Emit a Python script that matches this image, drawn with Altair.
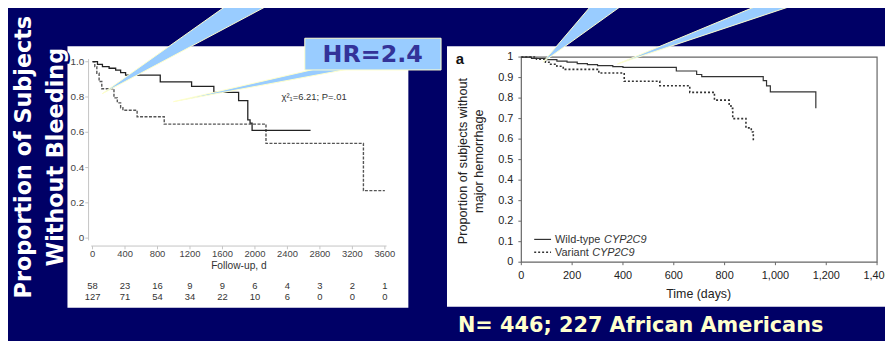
import altair as alt
import pandas as pd

# ---------------- Left panel (Kaplan-Meier, follow-up in days) ----------------
left_solid_days = [0, 61, 122, 204, 285, 346, 407, 834, 1220, 1494, 1799, 1912, 1940, 1965, 2685]
left_solid_surv = [1.0, 0.985, 0.972, 0.963, 0.952, 0.938, 0.924, 0.886, 0.860, 0.826, 0.779, 0.670, 0.652, 0.611, 0.611]
left_dashed_days = [0, 28, 53, 81, 114, 264, 305, 346, 374, 549, 883, 2136, 3336, 3600]
left_dashed_surv = [1.0, 0.972, 0.935, 0.888, 0.847, 0.795, 0.767, 0.739, 0.725, 0.688, 0.646, 0.537, 0.269, 0.269]
left_x_ticks = [0, 400, 800, 1200, 1600, 2000, 2400, 2800, 3200, 3600]
left_y_ticks = [0, 0.2, 0.4, 0.6, 0.8, 1.0]
left_y_labels = ["0", "0.2", "0.4", "0.6", "0.8", "1.0"]
risk_row_1 = [58, 23, 16, 9, 9, 6, 4, 3, 2, 1]
risk_row_2 = [127, 71, 54, 34, 22, 10, 6, 0, 0, 0]

# ---------------- Right panel ----------------
wild_days = [0, 40, 100, 140, 180, 220, 260, 300, 360, 400, 610, 690, 710, 952, 965, 980, 1159]
wild_surv = [1.0, 0.993, 0.988, 0.980, 0.975, 0.968, 0.963, 0.958, 0.953, 0.950, 0.932, 0.915, 0.905, 0.885, 0.860, 0.830, 0.750]
variant_days = [0, 60, 95, 110, 140, 165, 305, 405, 545, 663, 760, 818, 825, 832, 884, 905, 913]
variant_surv = [1.0, 0.99, 0.975, 0.965, 0.955, 0.94, 0.922, 0.882, 0.86, 0.828, 0.79, 0.77, 0.75, 0.70, 0.655, 0.635, 0.59]
right_x_ticks = [0, 200, 400, 600, 800, 1000, 1200, 1400]
right_x_labels = ["0", "200", "400", "600", "800", "1,000", "1,200", "1,400"]
right_y_ticks = [0, 0.1, 0.2, 0.3, 0.4, 0.5, 0.6, 0.7, 0.8, 0.9, 1.0]
right_y_labels = ["0", "0.1", "0.2", "0.3", "0.4", "0.5", "0.6", "0.7", "0.8", "0.9", "1"]

# ---------------- Slide annotations ----------------
slide_title = ["Proportion of Subjects", "Without Bleeding"]
hr_text = "HR=2.4"
footer_text = "N= 446; 227 African Americans"
chi_text = "χ²₁=6.21; P=.01"

# callout wedges (slide pixel coordinates)
wedges = {
    "w1": [(230, 3), (272, 3), (103, 93)],
    "w2": [(327, 66), (363, 66), (175, 101)],
    "w3": [(600, 0), (633, 0), (548, 61)],
    "w4": [(767, 3), (803, 3), (623, 63)],
}

OFF = 8
W, H = 885, 333
ONE = pd.DataFrame({"k": [0]})


def V(v):
    return alt.value(v - OFF)


def S(d0, d1, r0, r1):
    return alt.Scale(domain=[d0, d1], range=[r0 - OFF, r1 - OFF], nice=False, zero=False)


LX = S(0, 3600, 93.3, 388.3)
LY = S(0, 1, 238.7, 60.7)
RX = S(0, 1400, 526, 885)
RY = S(0, 1, 263, 56)
PX = S(8, 893, 8, 893)
PY = S(8, 341, 8, 341)

PLOT_FONT = "Liberation Sans"
SLIDE_FONT = "DejaVu Sans"

layers = []


def rect(x1, y1, x2, y2, **mk):
    return alt.Chart(ONE).mark_rect(**mk).encode(x=V(x1), x2=V(x2), y=V(y1), y2=V(y2))


def rule(x1, y1, x2, y2, **mk):
    return alt.Chart(ONE).mark_rule(**mk).encode(x=V(x1), x2=V(x2), y=V(y1), y2=V(y2))


def txt(x, y, s, **mk):
    return alt.Chart(ONE).mark_text(text=s, **mk).encode(x=V(x), y=V(y))


def km(days, surv, sx, sy, **mk):
    df = pd.DataFrame({"t": days, "s": surv})
    return alt.Chart(df).mark_line(interpolate="step-after", **mk).encode(
        x=alt.X("t:Q", scale=sx, axis=None),
        y=alt.Y("s:Q", scale=sy, axis=None),
    )


def xticks(vals, sx, y1, y2, color):
    return alt.Chart(pd.DataFrame({"t": vals})).mark_rule(color=color, strokeWidth=1).encode(
        x=alt.X("t:Q", scale=sx, axis=None), y=V(y1), y2=V(y2))


def yticks(vals, sy, x1, x2, color):
    return alt.Chart(pd.DataFrame({"v": vals})).mark_rule(color=color, strokeWidth=1).encode(
        y=alt.Y("v:Q", scale=sy, axis=None), x=V(x1), x2=V(x2))


def xlabels(vals, labs, sx, y, **mk):
    return alt.Chart(pd.DataFrame({"t": vals, "lab": labs})).mark_text(**mk).encode(
        x=alt.X("t:Q", scale=sx, axis=None), y=V(y), text="lab:N")


def ylabels(vals, labs, sy, x, **mk):
    return alt.Chart(pd.DataFrame({"v": vals, "lab": labs})).mark_text(**mk).encode(
        y=alt.Y("v:Q", scale=sy, axis=None), x=V(x), text="lab:N")


# white panels
layers.append(rect(68, 45, 412, 309, color="white"))
layers.append(rect(451, 45, 893, 308, color="white"))

# ---- left plot ----
GRAY = "#c4c4c4"
layers.append(rule(89.3, 58, 89.3, 241, color=GRAY, strokeWidth=1))
layers.append(rule(92, 246.7, 390, 246.7, color=GRAY, strokeWidth=1))
layers.append(yticks(left_y_ticks, LY, 86, 89.3, GRAY))
layers.append(xticks(left_x_ticks, LX, 246.7, 250, GRAY))
layers.append(ylabels(left_y_ticks, left_y_labels, LY, 85,
                      align="right", baseline="middle", font=PLOT_FONT, fontSize=10, color="#444"))
layers.append(xlabels(left_x_ticks, [str(v) for v in left_x_ticks], LX, 254.5,
                      align="center", baseline="middle", font=PLOT_FONT, fontSize=9.5, color="#444"))
layers.append(txt(241, 267, "Follow-up, d", align="center", baseline="middle",
                  font=PLOT_FONT, fontSize=10.3, color="#333"))
layers.append(xlabels(left_x_ticks, [str(v) for v in risk_row_1], LX, 287,
                      align="center", baseline="middle", font=PLOT_FONT, fontSize=9.5, color="#333"))
layers.append(xlabels(left_x_ticks, [str(v) for v in risk_row_2], LX, 298,
                      align="center", baseline="middle", font=PLOT_FONT, fontSize=9.5, color="#333"))
layers.append(txt(284, 96.5, chi_text, align="left", baseline="middle",
                  font=PLOT_FONT, fontSize=9.5, color="#333"))
layers.append(km(left_dashed_days, left_dashed_surv, LX, LY, color="#555", strokeWidth=1.4,
                 strokeDash=[3, 1.5]))
layers.append(km(left_solid_days, left_solid_surv, LX, LY, color="#222", strokeWidth=1.3))

# ---- right plot ----
FR = "#666"
layers.append(rect(526, 56, 885, 263, fill="transparent", stroke=FR, strokeWidth=1.2))
layers.append(yticks(right_y_ticks, RY, 523, 526, FR))
layers.append(xticks(right_x_ticks, RX, 263, 266, FR))
layers.append(ylabels(right_y_ticks, right_y_labels, RY, 518,
                      align="right", baseline="middle", font=PLOT_FONT, fontSize=11, color="#222"))
layers.append(xlabels(right_x_ticks, right_x_labels, RX, 276.5,
                      align="center", baseline="middle", font=PLOT_FONT, fontSize=11, color="#222"))
layers.append(txt(705, 295, "Time (days)", align="center", baseline="middle",
                  font=PLOT_FONT, fontSize=12.5, color="#222"))
layers.append(txt(467, 161, "Proportion of subjects without", align="center", baseline="middle",
                  angle=270, font=PLOT_FONT, fontSize=12.8, color="#222"))
layers.append(txt(483, 161, "major hemorrhage", align="center", baseline="middle",
                  angle=270, font=PLOT_FONT, fontSize=12.8, color="#222"))
layers.append(txt(464, 57.5, "a", align="center", baseline="middle",
                  font=PLOT_FONT, fontSize=15, fontWeight="bold", color="#111"))
# legend
layers.append(rule(539, 240, 556, 240, color="#333", strokeWidth=1.2))
layers.append(rule(539, 253, 556, 253, color="#333", strokeWidth=1.5, strokeDash=[2, 2]))
layers.append(txt(560, 240.5, "Wild-type", align="left", baseline="middle",
                  font=PLOT_FONT, fontSize=11, color="#333"))
layers.append(txt(609.5, 240.5, "CYP2C9", align="left", baseline="middle",
                  font=PLOT_FONT, fontSize=11, fontStyle="italic", color="#333"))
layers.append(txt(560, 253.5, "Variant", align="left", baseline="middle",
                  font=PLOT_FONT, fontSize=11, color="#333"))
layers.append(txt(597.5, 253.5, "CYP2C9", align="left", baseline="middle",
                  font=PLOT_FONT, fontSize=11, fontStyle="italic", color="#333"))
layers.append(km(variant_days, variant_surv, RX, RY, color="#333", strokeWidth=1.6, strokeDash=[2, 2]))
layers.append(km(wild_days, wild_surv, RX, RY, color="#333", strokeWidth=1.2))

# ---- callouts ----
for name, pts in wedges.items():
    pts2 = pts + [pts[0]]
    df = pd.DataFrame({"x": [p[0] for p in pts2], "y": [p[1] for p in pts2],
                       "i": list(range(len(pts2)))})
    layers.append(alt.Chart(df).mark_line(fill="#99CCFF", stroke="#FFFFCC", strokeWidth=1).encode(
        x=alt.X("x:Q", scale=PX, axis=None),
        y=alt.Y("y:Q", scale=PY, axis=None),
        order="i:Q",
    ))
layers.append(rect(307.5, 37, 445, 69, fill="#99CCFF", stroke="#FFFFCC", strokeWidth=1))
layers.append(txt(376, 54, hr_text, align="center", baseline="middle",
                  font=SLIDE_FONT, fontSize=24, fontWeight="bold", color="#333399"))

# ---- slide text ----
for i, (line, xc) in enumerate(zip(slide_title, [24, 56])):
    layers.append(txt(xc + 1.5, 158.5, line, align="center", baseline="middle", angle=270,
                      font=SLIDE_FONT, fontSize=22.5, fontWeight="bold", color="#000066",
                      stroke="#000066", strokeWidth=2))
    layers.append(txt(xc, 157, line, align="center", baseline="middle", angle=270,
                      font=SLIDE_FONT, fontSize=22.5, fontWeight="bold", color="white"))
layers.append(txt(462, 327, footer_text, align="left", baseline="middle",
                  font=SLIDE_FONT, fontSize=21, fontWeight="bold", color="#FFFFCC"))

chart = alt.layer(*layers).resolve_scale(x="independent", y="independent").properties(
    width=W, height=H, background="#000066", padding=0,
    autosize=alt.AutoSizeParams(type="none"),
).configure_view(strokeWidth=0)

chart.save("out.html", embed_options={"renderer": "svg", "actions": False})
